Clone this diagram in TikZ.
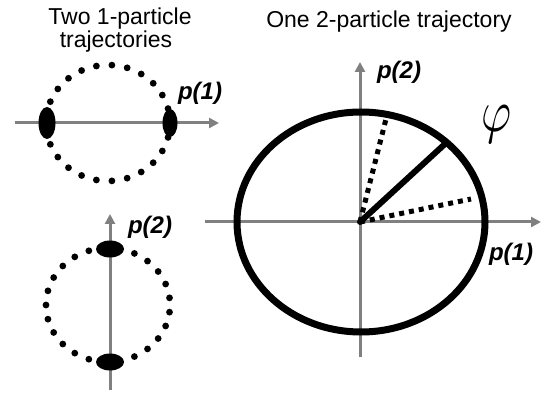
\documentclass[tikz,border=0pt]{standalone}
\usepackage{fontspec}
\setmainfont{Liberation Sans}
\usetikzlibrary{arrows.meta}
\definecolor{axisgray}{HTML}{808080}
\begin{document}
\begin{tikzpicture}[x=1pt,y=-1pt,
  axis/.style={draw=axisgray,line width=3pt,-{Triangle[length=10pt,width=10pt]}},
  blob/.style={fill=black},
  traj/.style={draw=black,line width=7pt},
  radius line/.style={draw=black,line width=6pt,line cap=round},
  dotline/.style={draw=black,line width=5pt,dash pattern=on 5pt off 5pt},
  title/.style={font=\fontsize{23}{27}\selectfont,inner sep=0pt,anchor=base},
  plabel/.style={font=\fontsize{24}{28}\selectfont\bfseries\itshape,inner sep=0pt}]
\useasboundingbox (0,0) rectangle (546,398);

% titles
\node[title] (t1) at (120,25) {Two 1-particle};
\node[title] (t2) at (116,48) {trajectories};
\node[title] (t3) at (389,28) {One 2-particle trajectory};

% top-left: particle 1
\coordinate (h1s) at (15,123);
\coordinate (h1e) at (219,123);
\draw[axis] (h1s) -- (h1e);
\foreach \k in {0,...,24}
  \fill[shift={(108,123)}] (\k*14.4:62 and 58) circle (3.4);
\fill[blob] (47,123) ellipse (8.5 and 16);
\fill[blob] (170,123) ellipse (7.5 and 14);
\node[plabel] (p1a) at (200,93) {p(1)};

% bottom-left: particle 2
\coordinate (v2s) at (110,390);
\coordinate (v2e) at (110,214);
\draw[axis] (v2s) -- (v2e);
\foreach \k in {0,...,24}
  \fill[shift={(108,305)}] (\k*14.4+7.2:62 and 57) circle (3.4);
\fill[blob] (110,249) ellipse (14 and 8.5);
\fill[blob] (110,362) ellipse (14 and 8.5);
\node[plabel] (p2a) at (150,227) {p(2)};

% right: 2-particle trajectory
\coordinate (o) at (360,222);
\coordinate (hxs) at (205,222);
\coordinate (hxe) at (541,222);
\coordinate (vys) at (360,357);
\coordinate (vye) at (360,62);
\draw[axis] (hxs) -- (hxe);
\draw[axis] (vys) -- (vye);
\draw[traj] (361,222) ellipse (124 and 110);
\coordinate (e1) at (446,143);
\coordinate (e2) at (387,115);
\coordinate (e3) at (471,199);
\draw[dotline] (o) -- (e2);
\draw[dotline] (o) -- (e3);
\draw[radius line] (o) -- (e1);
\node[plabel] (p2b) at (399,72) {p(2)};
\node[plabel] (p1b) at (511,254) {p(1)};
\node[inner sep=0pt,xscale=4.6,yscale=6] (phi) at (497,124) {$\varphi$};
\end{tikzpicture}
\end{document}
